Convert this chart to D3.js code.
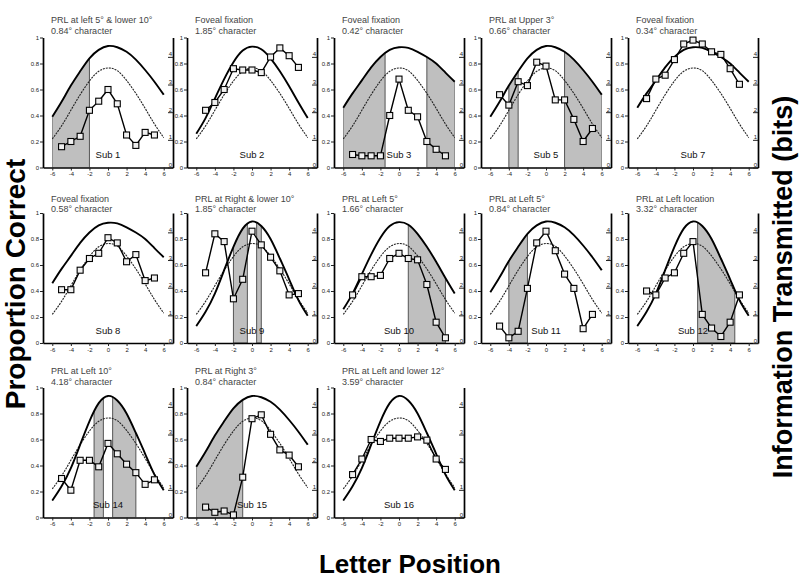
<!DOCTYPE html>
<html>
<head>
<meta charset="utf-8">
<script src="https://cdn.jsdelivr.net/npm/d3@7"></script>
<style>
body { margin: 0; background: #fff; }
svg { display: block; font-family: "Liberation Sans", Arial, sans-serif; }
</style>
</head>
<body>
<svg id="chart" width="800" height="584"></svg>
<script>
// letter positions: fitted curves run -6..6, measured points -5..5
let curveX = [-6, -5, -4, -3, -2, -1, 0, 1, 2, 3, 4, 5, 6];
let pointX = [-5, -4, -3, -2, -1, 0, 1, 2, 3, 4, 5];

// thin profile, same in every panel
let normalFit = [0.22, 0.32, 0.44, 0.56, 0.665, 0.74, 0.765, 0.745, 0.67, 0.57, 0.455, 0.335, 0.23];
// thick fitted profiles (four widths)
let fitWide   = [0.46, 0.57, 0.67, 0.77, 0.85, 0.905, 0.925, 0.92, 0.89, 0.85, 0.80, 0.73, 0.66];
let fitMid    = [0.39, 0.505, 0.63, 0.74, 0.84, 0.905, 0.935, 0.925, 0.89, 0.83, 0.75, 0.66, 0.56];
let fitNarrow = [0.26, 0.38, 0.53, 0.68, 0.81, 0.90, 0.93, 0.91, 0.84, 0.74, 0.625, 0.50, 0.38];
let fitTight  = [0.13, 0.24, 0.38, 0.56, 0.74, 0.88, 0.935, 0.90, 0.80, 0.65, 0.49, 0.33, 0.21];

let sub1  = [0.16, 0.20, 0.24, 0.44, 0.51, 0.60, 0.49, 0.25, 0.17, 0.27, 0.25];
let sub2  = [0.44, 0.50, 0.60, 0.76, 0.75, 0.75, 0.73, 0.85, 0.92, 0.86, 0.77];
let sub3  = [0.10, 0.09, 0.09, 0.09, 0.40, 0.68, 0.44, 0.39, 0.20, 0.14, 0.09];
let sub5  = [0.56, 0.48, 0.66, 0.63, 0.81, 0.78, 0.52, 0.52, 0.37, 0.20, 0.30];
let sub7  = [0.53, 0.68, 0.71, 0.83, 0.95, 0.98, 0.95, 0.89, 0.87, 0.76, 0.64];
let sub8  = [0.41, 0.41, 0.56, 0.65, 0.69, 0.81, 0.77, 0.625, 0.68, 0.48, 0.50];
let sub9  = [0.54, 0.84, 0.78, 0.34, 0.49, 0.86, 0.755, 0.66, 0.555, 0.37, 0.38];
let sub10 = [0.37, 0.51, 0.51, 0.52, 0.65, 0.69, 0.65, 0.64, 0.45, 0.16, 0.04];
let sub11 = [0.13, 0.04, 0.09, 0.42, 0.77, 0.86, 0.71, 0.53, 0.42, 0.11, 0.22];
let sub12 = [0.40, 0.37, 0.50, 0.54, 0.69, 0.78, 0.22, 0.115, 0.05, 0.16, 0.37];
let sub14 = [0.30, 0.21, 0.44, 0.44, 0.39, 0.57, 0.49, 0.41, 0.345, 0.255, 0.29];
let sub15 = [0.08, 0.04, 0.05, 0.02, 0.31, 0.76, 0.79, 0.64, 0.52, 0.48, 0.39];
let sub16 = [0.33, 0.45, 0.60, 0.585, 0.61, 0.61, 0.61, 0.62, 0.595, 0.45, 0.37];

let subjects = ["Sub 1", "Sub 2", "Sub 3", "Sub 5", "Sub 7", "Sub 8", "Sub 9", "Sub 10", "Sub 11", "Sub 12", "Sub 14", "Sub 15", "Sub 16"];
let scores = [sub1, sub2, sub3, sub5, sub7, sub8, sub9, sub10, sub11, sub12, sub14, sub15, sub16];
let fits = [fitMid, fitNarrow, fitWide, fitMid, fitWide, fitWide, fitTight, fitNarrow, fitMid, fitTight, fitTight, fitMid, fitTight];
let fixation = ["PRL at left 5° & lower 10°", "Foveal fixation", "Foveal fixation", "PRL at Upper 3°", "Foveal fixation",
    "Foveal fixation", "PRL at Right & lower 10°", "PRL at Left 5°", "PRL at Left 5°", "PRL at Left location",
    "PRL at Left 10°", "PRL at Right 3°", "PRL at Left and lower 12°"];
let charSize = ["0.84° character", "1.85° character", "0.42° character", "0.66° character", "0.34° character",
    "0.58° character", "1.85° character", "1.66° character", "0.84° character", "3.32° character",
    "4.18° character", "0.84° character", "3.59° character"];
// shaded letter-position ranges
let shades = [[[-6, -2]], [], [[-6, -1.5], [3, 6]], [[-4, -3], [2, 6]], [],
    [], [[-2, -0.5], [0.5, 1]], [[1, 5]], [[-4, -2]], [[0.5, 4.5]],
    [[-1.5, -0.5], [0.5, 3]], [[-6, -1]], []];

let propTicks = [0, 0.2, 0.4, 0.6, 0.8, 1];
let bitTicks = [0, 1, 2, 3, 4];
let posTicks = [-6, -4, -2, 0, 2, 4, 6];

let svg = d3.select('#chart');
let panelW = 130, panelH = 130;
let colX = [43, 187, 334, 481, 628];
let rowY = [37.5, 213, 387.5];
let titleY = [[23.2, 34.2], [201.5, 212.3], [374.2, 384.9]];

let x = d3.scaleLinear().domain([-7, 7]).range([0, panelW]);
let y = d3.scaleLinear().domain([0, 1]).range([panelH, 0]);
let yBits = d3.scaleLinear().domain([0, 4.7]).range([panelH, 0]);

let fitLine = d3.line().x((d, i) => x(curveX[i])).y(d => y(d)).curve(d3.curveNatural);
let fitArea = d3.area().x((d, i) => x(curveX[i])).y0(y(0)).y1(d => y(d)).curve(d3.curveNatural);
let dataLine = d3.line().x((d, i) => x(pointX[i])).y(d => y(d));

let defs = svg.append('defs');

function styleAxis(a, width) {
    a.attr('font-size', 6).attr('font-family', null).attr('color', '#222');
    a.select('.domain').attr('stroke', '#000').attr('stroke-width', width);
}

subjects.forEach((name, i) => {
    let row = Math.floor(i / 5), col = i % 5;
    let g = svg.append('g').attr('transform', `translate(${colX[col]},${rowY[row]})`);

    // shaded regions, cut off at the fitted curve
    defs.append('clipPath').attr('id', 'under' + i)
        .append('path').attr('d', fitArea(fits[i]));
    g.append('g')
        .attr('clip-path', `url(#under${i})`)
        .selectAll('rect')
        .data(shades[i])
        .enter()
        .append('rect')
        .attr('x', d => x(d[0]))
        .attr('y', 0)
        .attr('width', d => x(d[1]) - x(d[0]))
        .attr('height', panelH)
        .attr('fill', '#bfbfbf')
        .attr('stroke', '#555')
        .attr('stroke-width', 1);

    g.append('path')
        .attr('d', fitLine(normalFit))
        .attr('fill', 'none')
        .attr('stroke', '#222')
        .attr('stroke-width', 1.1)
        .attr('stroke-dasharray', '2,1');

    g.append('path')
        .attr('d', fitLine(fits[i]))
        .attr('fill', 'none')
        .attr('stroke', '#000')
        .attr('stroke-width', 1.9);

    // axes
    g.append('g')
        .call(d3.axisLeft(y).tickValues(propTicks).tickSize(3).tickSizeOuter(0).tickPadding(1)
            .tickFormat(d => String(+d.toFixed(1))))
        .call(a => styleAxis(a, 1.7));

    g.append('g')
        .attr('transform', `translate(0,${panelH})`)
        .call(d3.axisBottom(x).tickValues(posTicks).tickSize(3).tickSizeOuter(0).tickPadding(1.5)
            .tickFormat(d => String(d)))
        .call(a => styleAxis(a, 1.3));

    g.append('g')
        .attr('transform', `translate(${panelW},0)`)
        .call(d3.axisLeft(yBits).tickValues(bitTicks).tickSize(5).tickSizeOuter(0)
            .tickFormat(d => String(d)))
        .call(a => {
            styleAxis(a, 1.7);
            a.selectAll('text').attr('x', -1).attr('dy', '-0.15em');
        });

    // measured points
    g.append('path')
        .attr('d', dataLine(scores[i]))
        .attr('fill', 'none')
        .attr('stroke', '#000')
        .attr('stroke-width', 1.4);

    g.selectAll('rect.pt')
        .data(scores[i])
        .enter()
        .append('rect')
        .attr('class', 'pt')
        .attr('x', (d, k) => x(pointX[k]) - 3)
        .attr('y', d => y(d) - 3)
        .attr('width', 6)
        .attr('height', 6)
        .attr('fill', '#f0f0f0')
        .attr('stroke', '#000')
        .attr('stroke-width', 1.1);

    g.append('text')
        .attr('x', x(0))
        .attr('y', y(0.07))
        .attr('text-anchor', 'middle')
        .attr('font-size', 9.5)
        .attr('fill', '#111')
        .text(name);

    g.append('text')
        .attr('x', 8)
        .attr('y', titleY[row][0] - rowY[row])
        .attr('font-size', 9)
        .attr('fill', '#444')
        .text(fixation[i]);

    g.append('text')
        .attr('x', 8)
        .attr('y', titleY[row][1] - rowY[row])
        .attr('font-size', 9)
        .attr('fill', '#444')
        .text(charSize[i]);
});

svg.append('text')
    .attr('transform', 'translate(25,284) rotate(-90)')
    .attr('text-anchor', 'middle')
    .attr('font-size', 28)
    .attr('font-weight', 'bold')
    .text('Proportion Correct');

svg.append('text')
    .attr('transform', 'translate(792,287) rotate(-90)')
    .attr('text-anchor', 'middle')
    .attr('font-size', 27)
    .attr('font-weight', 'bold')
    .text('Information Transmitted (bits)');

svg.append('text')
    .attr('x', 410)
    .attr('y', 573)
    .attr('text-anchor', 'middle')
    .attr('font-size', 26)
    .attr('font-weight', 'bold')
    .text('Letter Position');
</script>
</body>
</html>
